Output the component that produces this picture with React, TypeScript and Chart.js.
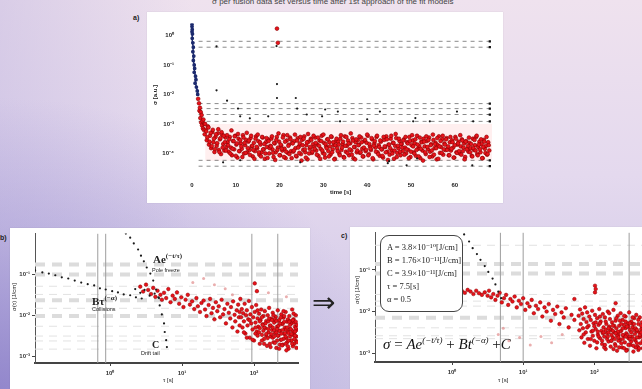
import React, { useEffect, useRef } from "react";
import { Chart, registerables } from "chart.js";

Chart.register(...registerables);

/* ---------------- panel a) time series ---------------- */
const A_X_TICKS = [0, 10, 20, 30, 40, 50, 60];
const A_X_LABELS = ["0", "10", "20", "30", "40", "50", "60"];
const A_Y_TICKS = [-4, -3, -2, -1, 0];
const A_Y_LABELS = ["10⁻⁴", "10⁻³", "10⁻²", "10⁻¹", "10⁰"];
const A_BAND_T0 = 3; // s, first sample of channel 1
const A_BAND2_T0 = 3.125; // s, first sample of channel 2
const A_BAND_DT = 0.25; // s, sampling period
const A_BAND = [
  -3.0, -3.25, -3.45, -3.12, -3.6, -3.3, -3.75, -3.2, -3.5, -3.85, -3.35, -3.65, -3.18, -3.95, -3.48, -3.28, -3.8, -3.4, -3.62, -3.9,
  -3.38, -3.72, -3.52, -4.0, -3.22, -3.84, -3.58, -3.42, -4.08, -3.66, -3.34, -3.92, -3.55, -3.76, -4.12, -3.46, -3.64, -3.98, -3.3, -3.82,
  -3.56, -4.05, -3.4, -3.74, -3.88, -4.18, -3.5, -3.78, -3.36, -3.96, -3.62, -4.1, -3.44, -3.86, -3.68, -4.0, -3.48, -4.15, -3.58, -3.82,
  -3.76, -3.42, -3.98, -3.64, -4.22, -3.54, -3.88, -3.32, -4.06, -3.7, -3.84, -3.46, -4.12, -3.6, -3.94, -3.38, -3.74, -4.02, -3.52, -4.16,
  -3.66, -3.9, -3.36, -4.08, -3.56, -3.8, -3.98, -3.44, -4.24, -3.72, -3.5, -3.86, -4.14, -3.62, -3.34, -4.0, -3.78, -3.54, -3.94, -3.4,
  -3.84, -3.64, -4.04, -3.46, -3.74, -4.18, -3.58, -3.9, -3.36, -4.02, -3.68, -3.82, -3.52, -4.1, -3.76, -3.42, -3.96, -3.62, -4.2, -3.72,
  -3.5, -3.92, -3.7, -4.06, -3.38, -3.8, -3.6, -4.14, -3.74, -3.44, -3.98, -3.66, -3.86, -3.32, -4.04, -3.56, -3.78, -4.2, -3.52, -3.9,
  -3.72, -3.42, -3.96, -3.62, -4.1, -3.8, -3.54, -3.88, -3.36, -4.06, -3.68, -3.84, -3.48, -4.16, -3.74, -3.58, -3.94, -3.4, -4.02, -3.78,
  -3.56, -3.86, -4.08, -3.44, -3.76, -3.96, -3.52, -4.22, -3.7, -3.82, -3.4, -4.0, -3.64, -3.9, -3.34, -4.12, -3.74, -3.5, -3.94, -3.68,
  -3.8, -3.56, -4.04, -3.44, -3.86, -3.66, -4.16, -3.58, -3.94, -3.38, -3.76, -4.0, -3.52, -3.88, -3.7, -4.1, -3.46, -3.84, -3.62, -4.24,
  -3.6, -3.96, -3.42, -3.78, -3.54, -4.12, -3.72, -3.9, -3.36, -4.04, -3.68, -3.82, -3.48, -4.18, -3.76, -3.58, -3.98, -3.4, -3.86, -3.7,
  -3.52, -3.88, -3.76, -4.06, -3.44, -3.84, -3.62, -4.14, -3.72, -3.5, -3.98, -3.66, -3.92, -3.38, -4.04, -3.56, -3.8, -4.2, -3.6, -3.86,
  -3.74, -3.46, -3.96, -3.68, -4.1, -3.82, -3.54, -3.9, -3.4, -4.06, -3.7, -3.86, -3.52, -4.16, -3.78, -3.6, -3.98, -3.44, -4.02, -3.72,
];
const A_BAND2 = [
  -3.2, -3.55, -3.08, -3.7, -3.4, -3.82, -3.28, -3.62, -3.95, -3.44, -3.74, -3.32, -3.88, -3.52, -4.02, -3.36, -3.68, -3.9, -3.46, -3.78,
  -3.62, -3.94, -3.44, -3.8, -4.06, -3.58, -3.86, -3.4, -3.7, -4.14, -3.5, -3.92, -3.66, -3.84, -3.38, -4.0, -3.72, -3.54, -3.96, -3.6,
  -3.88, -3.48, -3.76, -4.1, -3.64, -3.92, -3.42, -3.82, -3.58, -4.04, -3.7, -3.96, -3.46, -3.86, -4.18, -3.62, -3.78, -3.52, -4.0, -3.74,
  -3.5, -3.86, -4.12, -3.66, -3.96, -3.44, -3.8, -3.6, -4.06, -3.74, -3.9, -3.38, -3.84, -4.16, -3.56, -3.98, -3.7, -3.46, -3.92, -3.64,
  -3.94, -3.58, -3.82, -4.1, -3.48, -3.76, -3.66, -4.02, -3.54, -3.88, -3.42, -3.96, -3.72, -4.2, -3.6, -3.84, -3.5, -3.98, -3.68, -3.78,
  -3.46, -3.9, -3.7, -4.08, -3.56, -3.84, -3.4, -3.98, -3.64, -4.14, -3.76, -3.52, -3.92, -3.62, -4.04, -3.44, -3.86, -3.72, -4.18, -3.58,
  -3.82, -3.6, -4.0, -3.5, -3.88, -3.68, -4.12, -3.42, -3.94, -3.74, -3.56, -4.06, -3.66, -3.9, -3.48, -4.16, -3.78, -3.62, -3.96, -3.54,
  -3.7, -3.98, -3.46, -3.84, -4.1, -3.58, -3.92, -3.64, -3.4, -4.02, -3.76, -3.88, -3.52, -4.2, -3.66, -3.8, -3.44, -3.96, -3.72, -4.08,
  -3.6, -3.86, -4.14, -3.54, -3.78, -3.42, -3.94, -3.7, -4.04, -3.5, -3.9, -3.64, -4.18, -3.74, -3.48, -3.98, -3.82, -3.58, -4.06, -3.68,
  -3.92, -3.52, -3.8, -4.0, -3.62, -3.88, -3.44, -4.12, -3.72, -3.56, -3.96, -3.66, -4.08, -3.4, -3.84, -3.74, -4.16, -3.6, -3.9, -3.5,
  -3.76, -4.02, -3.58, -3.86, -3.46, -3.94, -3.68, -4.1, -3.54, -3.82, -3.64, -4.2, -3.72, -3.42, -3.98, -3.78, -3.52, -4.04, -3.66, -3.88,
  -3.48, -3.84, -4.06, -3.62, -3.9, -3.56, -3.8, -4.14, -3.44, -3.96, -3.7, -3.6, -4.0, -3.76, -3.52, -3.92, -3.66, -4.12, -3.58, -3.86,
  -3.94, -3.64, -3.82, -4.08, -3.5, -3.88, -3.72, -3.44, -4.02, -3.78, -3.6, -3.96, -3.68, -4.16, -3.54, -3.84, -3.74, -4.04, -3.62, -3.9,
];
const A_TRANSIENT: [number, number][] = [
  [0, 0.38], [0, 0.3], [0.05, 0.2], [0, 0.12], [0.1, 0.05], [0.05, -0.1], [0.2, -0.25], [0.3, -0.4], [0.2, -0.55],
  [0.4, -0.7], [0.3, -0.85], [0.5, -1.0], [0.6, -1.12], [0.5, -1.25], [0.8, -1.38], [0.9, -1.5], [0.7, -1.62],
  [1.0, -1.75], [1.2, -1.88], [1.3, -2.0],
];
const A_DECAY: [number, number][] = [
  [1.4, -2.15], [1.6, -2.3], [1.7, -2.55], [1.8, -2.45], [2.0, -2.6], [1.9, -2.8], [2.1, -2.95], [2.2, -2.7],
  [2.4, -2.9], [2.3, -3.05], [2.5, -3.15], [2.6, -2.85], [2.7, -3.2], [2.8, -3.0], [2.9, -3.35],
  [19.4, 0.23], [19.6, -0.25],
];
const A_OUTLIERS: [number, number][] = [
  [5.6, -1.86], [5.6, -0.37], [8.0, -2.21], [10.5, -2.48], [11, -2.74], [13.2, -2.81], [17.4, -2.74],
  [19.4, -1.65], [19.4, -2.12], [19.3, -0.36], [23.7, -2.12], [24, -2.48], [26.2, -2.68], [29.7, -2.74],
  [30.4, -2.51], [33.3, -2.58], [33.8, -2.91], [40, -2.84], [42.9, -2.58], [50.5, -2.91], [51, -2.8],
  [54.3, -2.91], [60.5, -2.58], [64.2, -2.91],
  [7.1, -4.3], [11, -4.23], [24.7, -4.3], [44.7, -4.33], [45, -4.26], [49, -4.4], [51.4, -4.17], [64, -4.4],
];
const A_LEVELS = [-0.2, -0.4, -2.31, -2.48, -2.68, -2.91, -4.23, -4.43];
const A_LEVEL_SPAN = [1.5, 68];
const A_HALO_SPAN = [3, 68.5];
const A_HALO_LEVELS = [-3.0, -4.25];

/* ---------------- panel b) log-log, components ---------------- */
const B_X_TICKS = [0, 1, 2];
const B_X_LABELS = ["10⁰", "10¹", "10²"];
const B_Y_TICKS = [-3, -2, -1];
const B_Y_LABELS = ["10⁻³", "10⁻²", "10⁻¹"];
const B_THICK_LEVELS = [-0.76, -1.0, -1.63, -2.02];
const B_THIN_LEVELS = [-1.29, -1.49, -1.83, -2.27, -2.51, -2.63, -2.83];
const B_VLINES = [-0.17, -0.06, 1.97, 2.33];
const B_POWER: [number, number][] = [
  [-1.04, -0.9], [-0.94, -0.95], [-0.85, -0.98], [-0.76, -1.02], [-0.67, -1.07], [-0.58, -1.1], [-0.49, -1.15],
  [-0.4, -1.2], [-0.31, -1.24], [-0.22, -1.27], [-0.14, -1.34], [-0.06, -1.37], [0.03, -1.41], [0.11, -1.44],
  [0.19, -1.49], [0.28, -1.51], [0.36, -1.56], [0.44, -1.59],
];
const B_EXP: [number, number][] = [
  [0.22, 0.0], [0.28, -0.1], [0.33, -0.24], [0.39, -0.39], [0.43, -0.54], [0.47, -0.68], [0.51, -0.83],
  [0.56, -0.98], [0.6, -1.15], [0.64, -1.37], [0.67, -1.56], [0.69, -1.76], [0.72, -1.98], [0.75, -2.2],
  [0.76, -2.41], [0.78, -2.61], [0.79, -2.78],
];
const B_BLACK: [number, number][] = [
  [0.35, -1.36], [0.42, -1.45], [0.48, -1.38], [0.55, -1.52], [0.62, -1.47], [0.68, -1.58],
];
const B_PALE: [number, number][] = [
  [1.15, -1.2], [1.3, -1.1], [1.45, -1.25], [1.6, -1.35], [1.7, -1.5], [2.2, -1.45], [2.45, -1.55],
];
const B_RED: [number, number][] = [
  [0.42, -1.3], [0.46, -1.42], [0.5, -1.25], [0.53, -1.38], [0.57, -1.48], [0.6, -1.33], [0.63, -1.55], [0.66, -1.4],
  [0.7, -1.5], [0.72, -1.62], [0.75, -1.45], [0.78, -1.58], [0.81, -1.36], [0.84, -1.68], [0.87, -1.52], [0.9, -1.6],
  [0.93, -1.44], [0.96, -1.72], [0.99, -1.56], [1.02, -1.8], [1.05, -1.62], [1.08, -1.5], [1.11, -1.74], [1.14, -1.66],
  [1.17, -1.85],
  [1.2, -1.58], [1.22, -1.78], [1.25, -1.92], [1.27, -1.7], [1.3, -1.64], [1.32, -1.86], [1.34, -2.02], [1.37, -1.75],
  [1.39, -1.6], [1.41, -1.95], [1.43, -1.82], [1.45, -2.1], [1.47, -1.68], [1.49, -1.9], [1.51, -1.78], [1.53, -2.05],
  [1.55, -1.62], [1.57, -1.98], [1.59, -1.85], [1.61, -2.2], [1.63, -1.72], [1.65, -1.94], [1.67, -2.08], [1.68, -1.8],
  [1.7, -2.3], [1.71, -1.66], [1.73, -1.99], [1.74, -2.15], [1.76, -1.88], [1.77, -2.4], [1.78, -1.74], [1.79, -2.05],
  [1.8, -1.92], [1.8, -2.25], [1.81, -1.6],
  [1.82, -2.05], [1.83, -1.85], [1.84, -2.3], [1.85, -1.95], [1.86, -2.15], [1.87, -1.72], [1.88, -2.45], [1.89, -2.0],
  [1.9, -1.88], [1.91, -2.25], [1.92, -2.1], [1.93, -1.65], [1.94, -2.55], [1.95, -1.98], [1.96, -2.2], [1.97, -1.8],
  [1.98, -2.35], [1.99, -2.05], [2.0, -2.62], [2.01, -1.92], [2.02, -2.18], [2.03, -1.75], [2.04, -2.4], [2.05, -2.08],
  [2.06, -2.28], [2.07, -1.96], [2.08, -2.7], [2.09, -2.12], [2.1, -1.86], [2.11, -2.48], [2.12, -2.22], [2.13, -2.02],
  [2.14, -2.58], [2.15, -1.9], [2.16, -2.32], [2.17, -2.14], [2.18, -2.75], [2.19, -2.0], [2.2, -2.42], [2.21, -1.82],
  [2.22, -2.26], [2.23, -2.52], [2.24, -2.08], [2.25, -2.36], [2.26, -1.94], [2.27, -2.66], [2.28, -2.18], [2.29, -2.44],
  [2.3, -2.04], [2.31, -2.8], [2.32, -2.28], [2.33, -1.88], [2.34, -2.5], [2.35, -2.12], [2.36, -2.38], [2.37, -2.6],
  [2.38, -1.98], [2.39, -2.22], [2.4, -2.72], [2.41, -2.06], [2.42, -2.46], [2.43, -2.3], [2.44, -1.92], [2.45, -2.56],
  [2.46, -2.16], [2.47, -2.4], [2.48, -2.82], [2.49, -2.02], [2.5, -2.34], [2.51, -2.62], [2.52, -2.2], [2.53, -1.86],
  [2.54, -2.48], [2.55, -2.1], [2.56, -2.7], [2.57, -2.28], [2.58, -2.0], [2.59, -2.52], [2.6, -2.24],
  [1.86, -2.42], [1.9, -2.55], [1.94, -2.12], [1.98, -2.6], [2.02, -2.45], [2.05, -1.88], [2.08, -2.32], [2.11, -2.05],
  [2.14, -2.3], [2.17, -2.5], [2.2, -2.15], [2.23, -2.25], [2.26, -2.55], [2.29, -2.1], [2.32, -2.62], [2.35, -2.38],
  [2.38, -2.45], [2.41, -2.58], [2.44, -2.35], [2.47, -2.1], [2.5, -2.52], [2.53, -2.38], [2.56, -2.42], [2.59, -2.36],
  [2.22, -2.7], [2.36, -2.72], [2.46, -2.66], [2.54, -2.76], [2.58, -2.62], [2.4, -2.2], [2.44, -2.7], [2.5, -2.14],
  [2.56, -2.18], [2.31, -2.42], [2.28, -2.36], [2.52, -2.62], [2.48, -2.44], [2.34, -2.26], [2.42, -2.16], [2.57, -2.5],
  [2.01, -1.22], [2.04, -1.41],
  [2.02, -2.3], [2.05, -2.5], [2.08, -2.15], [2.11, -2.62], [2.13, -2.38], [2.16, -2.2], [2.19, -2.56], [2.21, -2.08],
  [2.24, -2.46], [2.26, -2.3], [2.29, -2.68], [2.31, -2.14], [2.33, -2.5], [2.36, -2.2], [2.38, -2.6], [2.4, -2.36],
  [2.42, -2.02], [2.44, -2.52], [2.46, -2.3], [2.48, -2.62], [2.5, -2.24], [2.52, -2.46], [2.54, -2.12], [2.56, -2.58],
  [2.58, -2.32], [2.6, -2.66], [2.27, -2.0], [2.35, -2.82], [2.45, -2.86], [2.55, -1.96], [2.59, -2.8], [2.41, -1.9],
  [2.23, -2.78], [2.14, -2.7], [2.57, -2.4], [2.53, -2.7], [2.49, -2.16], [2.43, -2.44], [2.39, -2.74], [2.37, -2.06],
  [2.32, -2.34], [2.28, -2.52], [2.25, -2.12], [2.2, -2.34], [2.17, -2.46], [2.12, -2.24], [2.07, -2.42], [2.47, -2.76],
  [2.51, -2.34], [2.58, -2.16],
];

/* ---------------- panel c) log-log, fitted model ---------------- */
const C_X_TICKS = [0, 1, 2];
const C_X_LABELS = ["10⁰", "10¹", "10²"];
const C_Y_TICKS = [-3, -2, -1];
const C_Y_LABELS = ["10⁻³", "10⁻²", "10⁻¹"];
const C_THICK_LEVELS = [-0.86, -1.09, -2.15];
const C_THIN_LEVELS = [-0.41, -1.59, -1.75, -1.87, -2.39, -2.58, -2.65];
const C_VLINES = [0.68, 1.0, 2.49];
const C_EXP: [number, number][] = [
  [0.17, -0.15], [0.24, -0.32], [0.29, -0.48], [0.35, -0.62], [0.4, -0.76], [0.46, -0.91],
  [0.51, -1.05], [0.57, -1.21], [0.61, -1.35], [0.65, -1.52], [0.69, -1.68],
];
const C_PALE: [number, number][] = [
  [0.65, -2.55], [0.72, -2.4], [0.8, -2.7], [0.95, -2.62], [1.1, -2.8], [1.25, -2.6], [1.4, -2.75], [1.55, -2.55],
];
const C_RED: [number, number][] = [
  [-0.66, -1.42], [-0.62, -1.46], [-0.58, -1.4], [-0.54, -1.44], [-0.5, -1.48], [-0.46, -1.43], [-0.42, -1.38],
  [-0.38, -1.45], [-0.34, -1.5], [-0.3, -1.47], [-0.26, -1.41], [-0.22, -1.46], [-0.18, -1.52], [-0.14, -1.48],
  [-0.1, -1.44], [-0.06, -1.4], [-0.02, -1.47], [0.02, -1.53], [0.06, -1.49], [0.1, -1.45], [0.14, -1.51],
  [0.18, -1.55], [0.22, -1.48], [0.26, -1.52], [0.3, -1.58], [0.34, -1.5], [0.38, -1.56], [0.42, -1.6],
  [0.46, -1.54], [0.5, -1.62],
  [0.52, -1.5], [0.55, -1.66], [0.58, -1.58], [0.61, -1.72], [0.64, -1.62], [0.67, -1.55], [0.7, -1.78], [0.73, -1.68],
  [0.76, -1.6], [0.79, -1.84], [0.82, -1.7], [0.85, -1.76], [0.88, -1.64], [0.91, -1.9], [0.94, -1.74], [0.97, -1.82],
  [1.0, -1.68], [1.03, -1.96], [1.06, -1.8], [1.09, -1.88], [1.12, -1.72], [1.15, -2.04], [1.18, -1.86], [1.21, -1.94],
  [1.24, -1.78], [1.27, -2.12], [1.3, -1.9], [1.33, -2.0], [1.36, -1.82], [1.39, -2.22], [1.42, -1.96], [1.45, -2.06],
  [1.48, -1.88], [1.51, -2.3], [1.54, -2.02], [1.57, -2.14], [1.6, -1.92], [1.64, -2.38], [1.68, -2.08], [1.72, -2.2],
  [1.78, -2.1], [1.79, -2.45], [1.8, -1.95], [1.81, -2.3], [1.82, -2.62], [1.83, -2.05], [1.84, -2.4], [1.85, -2.18],
  [1.86, -2.75], [1.87, -1.9], [1.88, -2.5], [1.89, -2.25], [1.9, -2.02], [1.91, -2.66], [1.92, -2.34], [1.93, -2.12],
  [1.94, -2.82], [1.95, -2.2], [1.96, -2.48], [1.97, -1.98], [1.98, -2.58], [1.99, -2.28], [2.0, -2.7], [2.01, -2.08],
  [2.02, -2.42], [2.03, -2.88], [2.04, -2.16], [2.05, -2.55], [2.06, -2.32], [2.07, -1.94], [2.08, -2.64], [2.09, -2.24],
  [2.1, -2.46], [2.11, -2.78], [2.12, -2.06], [2.13, -2.38], [2.14, -2.6], [2.15, -2.14], [2.16, -2.9], [2.17, -2.3],
  [2.18, -2.52], [2.19, -2.0], [2.2, -2.72], [2.21, -2.36], [2.22, -2.18], [2.23, -2.84], [2.24, -2.44], [2.25, -2.26],
  [2.26, -2.62], [2.27, -1.96], [2.28, -2.5], [2.29, -2.78], [2.3, -2.22], [2.31, -2.4], [2.32, -2.94], [2.33, -2.1],
  [2.34, -2.56], [2.35, -2.34], [2.36, -2.68], [2.37, -2.04], [2.38, -2.46], [2.39, -2.86], [2.4, -2.2], [2.41, -2.58],
  [2.42, -2.32], [2.43, -2.74], [2.44, -2.12], [2.45, -2.52], [2.46, -2.92], [2.47, -2.28], [2.48, -2.64], [2.49, -2.02],
  [2.5, -2.44], [2.51, -2.8], [2.52, -2.24], [2.53, -2.6], [2.54, -2.38], [2.55, -2.96], [2.56, -2.16], [2.57, -2.54],
  [2.58, -2.7], [2.59, -2.08], [2.6, -2.48], [2.61, -2.84], [2.62, -2.3], [2.63, -2.62], [2.64, -2.14], [2.65, -2.76],
  [2.66, -2.42], [2.67, -2.26], [2.68, -2.88], [2.69, -2.5], [2.7, -2.06], [2.71, -2.66], [2.72, -2.36],
  [1.85, -2.55], [1.9, -2.38], [1.95, -2.66], [2.0, -2.35], [2.04, -2.74], [2.08, -2.28], [2.12, -2.52], [2.16, -2.44],
  [2.2, -2.5], [2.24, -2.7], [2.28, -2.34], [2.32, -2.58], [2.36, -2.48], [2.4, -2.66], [2.44, -2.4], [2.48, -2.36],
  [2.52, -2.72], [2.56, -2.44], [2.6, -2.62], [2.64, -2.5], [2.68, -2.4], [2.72, -2.58], [2.14, -2.86], [2.3, -2.82],
  [2.46, -2.56], [2.62, -2.92], [2.7, -2.76], [2.26, -2.46], [2.38, -2.3], [2.54, -2.3], [2.66, -2.6], [2.58, -2.86],
  [2.34, -2.7], [2.42, -2.88], [2.5, -2.6], [2.18, -2.66], [2.22, -2.42], [2.06, -2.6], [1.98, -2.46],
  [2.01, -1.38], [2.02, -1.46], [2.01, -1.54], [1.72, -1.7], [2.3, -1.8],
  [2.02, -2.26], [2.05, -2.48], [2.08, -2.12], [2.11, -2.7], [2.13, -2.5], [2.16, -2.24], [2.19, -2.6], [2.21, -2.04],
  [2.24, -2.56], [2.26, -2.34], [2.29, -2.66], [2.31, -2.16], [2.33, -2.48], [2.36, -2.22], [2.38, -2.76], [2.4, -2.4],
  [2.42, -2.1], [2.44, -2.6], [2.46, -2.36], [2.48, -2.8], [2.5, -2.28], [2.52, -2.5], [2.54, -2.14], [2.56, -2.66],
  [2.58, -2.4], [2.6, -2.76], [2.62, -2.2], [2.64, -2.56], [2.66, -2.34], [2.68, -2.7], [2.7, -2.46], [2.72, -2.16],
  [2.27, -2.9], [2.35, -2.86], [2.45, -2.94], [2.55, -2.82], [2.63, -2.88], [2.69, -2.6], [2.71, -2.84], [2.4, -2.56],
  [2.6, -2.44], [2.5, -2.66], [2.3, -2.52], [2.2, -2.4], [2.15, -2.8], [2.66, -2.5], [2.56, -2.3], [2.44, -2.24],
  [2.34, -2.62], [2.24, -2.7],
];
const C_LEGEND = ["A = 3.8×10⁻¹⁰[J/cm]", "B = 1.76×10⁻¹¹[J/cm]", "C = 3.9×10⁻¹¹[J/cm]", "τ = 7.5[s]", "α = 0.5"];

/* ---------------- helpers ---------------- */
const pts = (arr: [number, number][]) => arr.map(([x, y]) => ({ x, y }));
const RED = "#e8131b";
const RED_EDGE = "#8a0000";
const TICK_FONT = { family: "Liberation Sans", size: 6, weight: "bold" as const };

function hLine(level: number, x0: number, x1: number, extra: any) {
  return { data: [{ x: x0, y: level }, { x: x1, y: level }], showLine: true, pointRadius: 0, order: 10, ...extra };
}
function vLine(x: number, y0: number, y1: number, extra: any) {
  return { data: [{ x, y: y0 }, { x, y: y1 }], showLine: true, pointRadius: 0, order: 8, ...extra };
}

function baseOptions(padding: any, scales: any) {
  return {
    animation: false,
    responsive: false,
    maintainAspectRatio: false,
    events: [],
    layout: { padding },
    plugins: { legend: { display: false }, tooltip: { enabled: false } },
    scales,
  };
}

function logScales(xMin: number, xMax: number, yMin: number, yMax: number, xT: number[], xL: string[], yT: number[], yL: string[], yW: number, xH: number) {
  return {
    x: {
      type: "linear",
      min: xMin,
      max: xMax,
      afterBuildTicks: (s: any) => { s.ticks = xT.map((v) => ({ value: v })); },
      afterFit: (s: any) => { s.height = xH; },
      ticks: { callback: (_v: any, i: number) => xL[i], font: TICK_FONT, color: "#333", padding: 4, autoSkip: false, maxRotation: 0 },
      grid: { display: true, drawOnChartArea: false, drawTicks: true, tickLength: 3, color: "#444" },
      border: { display: true, color: "#444", width: 2 },
    },
    y: {
      type: "linear",
      min: yMin,
      max: yMax,
      afterBuildTicks: (s: any) => { s.ticks = yT.map((v) => ({ value: v })); },
      afterFit: (s: any) => { s.width = yW; },
      ticks: { callback: (_v: any, i: number) => yL[i], font: TICK_FONT, color: "#333", padding: 2, autoSkip: false },
      grid: { display: true, drawOnChartArea: false, drawTicks: true, tickLength: 3, color: "#444" },
      border: { display: true, color: "#555", width: 1 },
    },
  };
}

function configA() {
  const band = A_BAND.map((v, i) => ({ x: A_BAND_T0 + i * A_BAND_DT, y: v }));
  const band2 = A_BAND2.map((v, i) => ({ x: A_BAND2_T0 + i * A_BAND_DT, y: v }));
  const redStyle = { pointRadius: 1.9, backgroundColor: RED, borderColor: RED_EDGE, borderWidth: 0.6, order: 3 };
  const datasets: any[] = [
    { data: [{ x: A_HALO_SPAN[0], y: A_HALO_LEVELS[0] }, { x: A_HALO_SPAN[1], y: A_HALO_LEVELS[0] }], showLine: true, pointRadius: 0, borderWidth: 0, fill: "+1", backgroundColor: "rgba(255,150,150,0.15)", order: 12 },
    { data: [{ x: A_HALO_SPAN[0], y: A_HALO_LEVELS[1] }, { x: A_HALO_SPAN[1], y: A_HALO_LEVELS[1] }], showLine: true, pointRadius: 0, borderWidth: 0, order: 12 },
    ...A_LEVELS.map((l) =>
      hLine(l, A_LEVEL_SPAN[0], A_LEVEL_SPAN[1], {
        borderColor: "rgba(60,60,60,0.75)", borderWidth: 0.8, borderDash: [4, 4],
        pointRadius: [0, 1.6], pointStyle: "rect", pointBackgroundColor: "#111", pointBorderWidth: 0,
      })
    ),
    { data: band, ...redStyle },
    { data: band2, ...redStyle },
    { data: pts(A_DECAY), ...redStyle },
    { data: pts(A_TRANSIENT), showLine: true, borderColor: "#1c2a6e", borderWidth: 1.4, pointRadius: 1.2, backgroundColor: "#1c2a6e", order: 1 },
    { data: pts(A_OUTLIERS), pointRadius: 1.1, backgroundColor: "#1a1a1a", borderWidth: 0, order: 0 },
  ];
  return {
    type: "scatter",
    data: { datasets },
    options: baseOptions({ left: 0, right: 11, top: 8, bottom: 0 }, {
      x: {
        type: "linear", min: -0.46, max: 68.5,
        afterBuildTicks: (s: any) => { s.ticks = A_X_TICKS.map((v) => ({ value: v })); },
        afterFit: (s: any) => { s.height = 33; },
        ticks: { callback: (_v: any, i: number) => A_X_LABELS[i], font: TICK_FONT, color: "#222", padding: 4, autoSkip: false, maxRotation: 0 },
        grid: { display: false },
        border: { display: false },
      },
      y: {
        type: "linear", min: -4.56, max: 0.4,
        afterBuildTicks: (s: any) => { s.ticks = A_Y_TICKS.map((v) => ({ value: v })); },
        afterFit: (s: any) => { s.width = 43; },
        ticks: { callback: (_v: any, i: number) => A_Y_LABELS[i], font: TICK_FONT, color: "#222", padding: 8, autoSkip: false },
        grid: { display: false },
        border: { display: false },
      },
    }),
  };
}

function configLog(opts: {
  xMin: number; xMax: number; yMin: number; yMax: number;
  xT: number[]; xL: string[]; yT: number[]; yL: string[];
  thick: number[]; thin: number[]; vlines: number[];
  red: [number, number][]; pale: [number, number][]; black: [number, number][][];
  padding: any; yW: number; xH: number;
}) {
  const { xMin, xMax, yMin, yMax } = opts;
  const datasets: any[] = [
    ...opts.thick.map((l) => hLine(l, xMin, xMax, { borderColor: "#dcdcdc", borderWidth: 4, borderDash: [10, 7] })),
    ...opts.thin.map((l) => hLine(l, xMin, xMax, { borderColor: "#e2e2e2", borderWidth: 1, borderDash: [8, 6] })),
    ...opts.vlines.map((v) => vLine(v, yMin, yMax, { borderColor: "#9d9d9d", borderWidth: 1 })),
    { data: pts(opts.pale), pointRadius: 1.5, backgroundColor: "rgba(225,140,140,0.7)", borderWidth: 0, order: 5 },
    { data: pts(opts.red), pointRadius: 1.8, backgroundColor: RED, borderColor: RED_EDGE, borderWidth: 0.5, order: 3 },
    ...opts.black.map((b) => ({ data: pts(b), pointRadius: 1.1, backgroundColor: "#1a1a1a", borderWidth: 0, order: 1 })),
  ];
  return {
    type: "scatter",
    data: { datasets },
    options: baseOptions(opts.padding, logScales(xMin, xMax, yMin, yMax, opts.xT, opts.xL, opts.yT, opts.yL, opts.yW, opts.xH)),
  };
}

const configB = () =>
  configLog({
    xMin: -1.042, xMax: 2.611, yMin: -3.17, yMax: 0,
    xT: B_X_TICKS, xL: B_X_LABELS, yT: B_Y_TICKS, yL: B_Y_LABELS,
    thick: B_THICK_LEVELS, thin: B_THIN_LEVELS, vlines: B_VLINES,
    red: B_RED, pale: B_PALE, black: [B_POWER, B_EXP, B_BLACK],
    padding: { left: 0, right: 12, top: 4, bottom: 0 }, yW: 25, xH: 26,
  });

const configC = () =>
  configLog({
    xMin: -1.083, xMax: 2.72, yMin: -3.21, yMax: -0.106,
    xT: C_X_TICKS, xL: C_X_LABELS, yT: C_Y_TICKS, yL: C_Y_LABELS,
    thick: C_THICK_LEVELS, thin: C_THIN_LEVELS, vlines: C_VLINES,
    red: C_RED, pale: C_PALE, black: [C_EXP],
    padding: { left: 0, right: 1, top: 3, bottom: 0 }, yW: 25, xH: 27,
  });

function ChartPanel({ left, top, width, height, make }: { left: number; top: number; width: number; height: number; make: () => any }) {
  const ref = useRef<HTMLCanvasElement>(null);
  useEffect(() => {
    const chart = new Chart(ref.current as HTMLCanvasElement, make());
    return () => chart.destroy();
  }, []);
  return (
    <div style={{ position: "absolute", left, top, width, height, background: "#fff", boxShadow: "0 0 1px rgba(0,0,0,0.15)" }}>
      <canvas ref={ref} width={width} height={height} style={{ display: "block", width, height }} />
    </div>
  );
}

const T = (props: { x: number; y: number; s: number; children: any; style?: any }) => (
  <div style={{ position: "absolute", left: props.x, top: props.y, fontSize: props.s, lineHeight: 1, whiteSpace: "nowrap", color: "#222", ...props.style }}>
    {props.children}
  </div>
);

const serif = { fontFamily: "'Liberation Serif', 'DejaVu Serif', serif" };
const sans = { fontFamily: "'Liberation Sans', 'DejaVu Sans', sans-serif" };

export default function App() {
  return (
    <div
      style={{
        position: "fixed", left: 0, top: 0, width: 642, height: 389, overflow: "hidden",
        background:
          "radial-gradient(ellipse 60% 75% at 0% 100%, rgba(138,126,200,0.85) 0%, rgba(150,140,208,0.35) 55%, rgba(160,150,210,0) 100%), linear-gradient(90deg, rgba(175,165,218,0.35) 0%, rgba(190,180,225,0) 30%), linear-gradient(180deg, #efe2ee 0%, #e4d9ee 45%, #cdc5e6 100%)",
        ...sans,
      }}
    >
      <T x={212} y={-2} s={8} style={{ color: "#444" }}>σ per fusion data set versus time after 1st approach of the fit models</T>
      <T x={133} y={14} s={7} style={{ fontWeight: "bold" }}>a)</T>
      <T x={0} y={234} s={7} style={{ fontWeight: "bold" }}>b)</T>
      <T x={341} y={232} s={7} style={{ fontWeight: "bold" }}>c)</T>

      <ChartPanel left={147} top={12} width={356} height={191} make={configA} />
      <ChartPanel left={10} top={228} width={300} height={161} make={configB} />
      <ChartPanel left={350} top={227} width={300} height={162} make={configC} />

      {/* panel a axis titles */}
      <T x={155} y={95} s={6} style={{ transform: "translate(-50%,-50%) rotate(-90deg)", fontWeight: "bold" }}>σ [a.u.]</T>
      <T x={330} y={189} s={6} style={{ fontWeight: "bold" }}>time [s]</T>

      {/* panel b annotations */}
      <T x={14} y={297} s={6} style={{ transform: "translate(-50%,-50%) rotate(-90deg)" }}>σ(τ) [J/cm]</T>
      <T x={163} y={377} s={6}>τ [s]</T>
      <T x={153} y={253} s={11} style={{ ...serif, fontWeight: "bold" }}>
        Ae<sup style={{ fontSize: 7 }}>(−t/τ)</sup>
      </T>
      <T x={152} y={268} s={5.5}>Pole freeze</T>
      <T x={92} y={295} s={11} style={{ ...serif, fontWeight: "bold" }}>
        Bτ<sup style={{ fontSize: 7 }}>(−α)</sup>
      </T>
      <T x={92} y={307} s={5.5}>Collisions</T>
      <T x={152} y={340} s={10} style={{ ...serif, fontWeight: "bold" }}>C</T>
      <T x={141} y={351} s={5.5}>Drift tail</T>

      {/* arrow */}
      <T x={312} y={289} s={28} style={{ fontFamily: "'DejaVu Sans', sans-serif", color: "#222" }}>⇒</T>

      {/* panel c annotations */}
      <T x={357} y={290} s={6} style={{ transform: "translate(-50%,-50%) rotate(-90deg)" }}>σ(τ) [J/cm]</T>
      <T x={498} y={377} s={6}>τ [s]</T>
      <div
        style={{
          position: "absolute", left: 380, top: 235, width: 83, height: 77, boxSizing: "border-box",
          border: "1px solid #444", borderRadius: 9, background: "#fff", padding: "5px 0 0 6px", ...serif,
        }}
      >
        {C_LEGEND.map((s) => (
          <div key={s} style={{ fontSize: 8.5, lineHeight: "13px", color: "#222", whiteSpace: "nowrap" }}>{s}</div>
        ))}
      </div>
      <T x={383} y={336} s={15} style={{ ...serif, fontStyle: "italic", color: "#111" }}>
        σ <span style={{ fontStyle: "normal" }}>=</span> Ae<sup style={{ fontSize: 9 }}>(−t/τ)</sup>{" "}
        <span style={{ fontStyle: "normal" }}>+</span> Bt<sup style={{ fontSize: 9 }}>(−α)</sup>{" "}
        <span style={{ fontStyle: "normal" }}>+</span>C
      </T>
    </div>
  );
}
